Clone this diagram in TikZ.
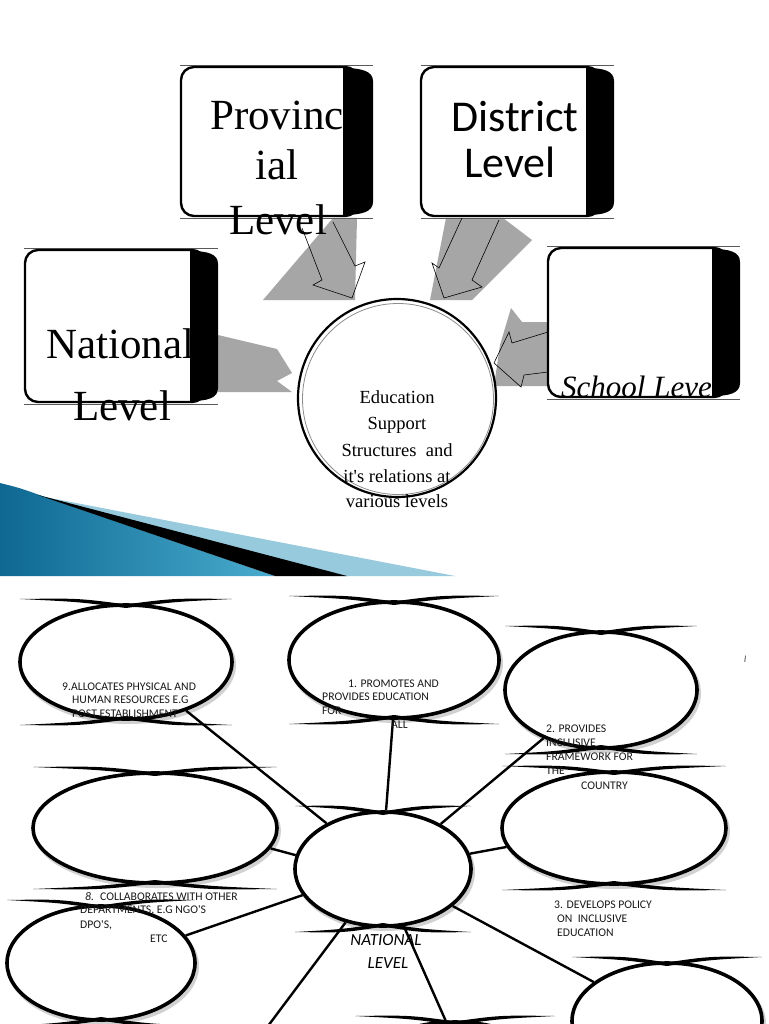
\documentclass[tikz,border=0pt]{standalone}
\usepackage{fontspec}
\setmainfont{Liberation Serif}
\newfontfamily\tms{Liberation Serif}
\newfontfamily\cbr{Carlito}
\usetikzlibrary{shapes.geometric}
\definecolor{arrgray}{RGB}{166,166,166}
\definecolor{swdark}{RGB}{14,104,146}
\definecolor{swmid}{RGB}{74,172,206}
\definecolor{swlight}{RGB}{150,202,220}
\tikzset{
  lvbox/.style={draw, line width=2.4pt, rounded corners=13pt, fill=white, inner sep=0pt},
  thinrule/.style={line width=0.9pt, black!65},
  grayarrow/.style={fill=arrgray},
  outarrow/.style={draw, line width=0.6pt, line join=miter},
  bigserif/.style={font=\tms\fontsize{43}{50}\selectfont, inner sep=0pt, anchor=base},
  bigsans/.style={font=\cbr\fontsize{44}{50}\selectfont, inner sep=0pt, anchor=base},
  midserif/.style={font=\tms\fontsize{18.5}{22}\selectfont, inner sep=0pt, anchor=base},
  smalltxt/.style={font=\cbr\fontsize{11.7}{13}\selectfont, text=black!90, inner sep=0pt, anchor=base west},
  bubst/.style={ellipse, draw, line width=3.6pt, fill=white, inner sep=0pt},
  bubsh/.style={ellipse, draw=black!18, line width=4pt, inner sep=0pt},
  conn/.style={line width=2.4pt},
}
% tapered tail: cx, yedge, sx, sy, a
\newcommand\tl[5]{%
  \fill ({#1+(#3)*(#5)},{#2+(#4)*6}) .. controls ({#1+(#3)*(#5)*0.45},{#2+(#4)*6.8}) .. ({#1},{#2+(#4)*0.6})
     -- ({#1},{#2-(#4)*3.0}) .. controls ({#1+(#3)*(#5)*0.45},{#2+(#4)*3.2}) .. ({#1+(#3)*(#5)},{#2+(#4)*6}) -- cycle;}
% bubble: name, cx, cy, a, b
\newcommand\bub[5]{%
  \node[bubsh, minimum width=2*#4pt, minimum height=2*#5pt] (#1s) at ({#2+2},{#3+3}) {};
  \node[bubst, minimum width=2*#4pt, minimum height=2*#5pt] (#1) at (#2,#3) {};
  \tl{#2}{#3-#5}{-1}{-1}{#4}\tl{#2}{#3-#5}{1}{-1}{#4}%
  \tl{#2}{#3+#5}{-1}{1}{#4}\tl{#2}{#3+#5}{1}{1}{#4}}
% side bar: xb, x2, y1, y2
\newcommand\sidebar[4]{%
  \fill (#1,{#3+1}) .. controls ({#1+18},{#3+1}) and (#2,{#3+4}) .. (#2,{#3+14})
     -- (#2,{#4-14}) .. controls (#2,{#4-4}) and ({#1+18},{#4-1}) .. (#1,{#4-1}) -- cycle;}
\begin{document}
\begin{tikzpicture}[x=1pt,y=-1pt]
\useasboundingbox (0,0) rectangle (768,1024);
\clip (0,0) rectangle (768,1024);
\fill[white] (0,0) rectangle (768,1024);

% ---------------- top slide ----------------
% swoosh
\fill[swlight] (45,497) -- (455,576) -- (330,576) -- cycle;
\shade[left color=swdark, right color=swmid] (0,483) .. controls (20,488) .. (45,497) -- (275,576) -- (0,576) -- cycle;
\fill[black] (38,495) -- (347,576) -- (275,576) -- cycle;

% gray block arrows
\fill[grayarrow] (333,218) -- (357,218) -- (355,300) -- (263,300) -- cycle;
\fill[grayarrow] (446,218) -- (503,218) -- (532,240) -- (472,300) -- (430,300) -- cycle;
\fill[grayarrow] (218,335) -- (277,349) -- (292,373) -- (277,381) -- (292,392) -- (218,392) -- cycle;
\fill[grayarrow] (511,308) -- (522,322) -- (548,322) -- (548,386) -- (494,386) -- (500,345) -- cycle;

% boxes
\draw[thinrule] (180,65) -- (373,65); \draw[thinrule] (180,218) -- (373,218);
\draw[thinrule] (421,65) -- (614,65); \draw[thinrule] (421,218) -- (614,218);
\draw[thinrule] (24,248) -- (218,248); \draw[thinrule] (24,404) -- (218,404);
\draw[thinrule] (547,246) -- (740,246); \draw[thinrule] (547,399) -- (740,399);
\node[lvbox, minimum width=177pt, minimum height=149pt] (prov) at (269.5,141.5) {};
\node[lvbox, minimum width=179pt, minimum height=149pt] (dist) at (510.5,141.5) {};
\node[lvbox, minimum width=180pt, minimum height=152pt] (natb) at (115,326) {};
\node[lvbox, minimum width=179pt, minimum height=149pt] (schl) at (637.5,322.5) {};

\node[bigserif] (provt1) at (277,130) {Provinc};
\node[bigserif] (provt2) at (277,180) {ial};
\node[bigserif] (provt3) at (278,235) {Level};
\node[bigsans] (distt1) at (515,132) {District};
\node[bigsans] (distt2) at (510,178) {Level};
\node[bigserif, anchor=base west] (natt1) at (46,358) {National};
\node[bigserif] (natt2) at (122,420) {Level};
\node[font=\tms\itshape\fontsize{31}{36}\selectfont, inner sep=0pt, anchor=base west] (schlt) at (561,397) {School Level};

\sidebar{343}{373}{67}{216}
\sidebar{586}{614}{67}{216}
\sidebar{190}{218}{250}{402}
\sidebar{712}{740}{248}{397}

% central circle
\node[circle, draw, line width=2.2pt, fill=white, minimum size=198pt, inner sep=0pt] (esc) at (397,398) {};
\node[circle, draw=black!45, line width=0.8pt, minimum size=191pt, inner sep=0pt] (escin) at (398,399) {};

% outline arrows
\draw[outarrow] (302,228) -- (322,280) -- (313,285) -- (352,298) -- (365,262) -- (355,266) -- (333,222);
\draw[outarrow] (462,218) -- (439,268) -- (432,263) -- (444,298) -- (482,287) -- (472,280) -- (499,220);
\draw[outarrow] (548,332) -- (512,343) -- (509,332) -- (494,363) -- (521,387) -- (524,375) -- (548,372);

\node[midserif] (c1) at (397,403) {Education};
\node[midserif] (c2) at (397,429) {Support};
\node[midserif] (c3) at (397,456) {Structures\ \ and};
\node[midserif] (c4) at (397,482) {it's relations at};
\node[midserif] (c5) at (397,507) {various levels};

% ---------------- bottom slide ----------------
\bub{e9}{126}{662}{106}{57}
\bub{e1}{394}{660}{105}{58}
\bub{e2}{601}{690}{96}{58}
\bub{e7}{155}{828}{122}{55}
\bub{e3}{614}{828}{112}{56}
\bub{e8}{101}{963}{94}{57}
\bub{nat}{383}{869}{88}{57}
\bub{e4}{667}{1021}{95}{58}
\bub{e5}{455}{1080}{100}{58}

\coordinate (dl) at (265,1030);

\draw[conn] (e9.-39) -- (nat.141);
\draw[conn] (e1.-91) -- (nat.87);
\draw[conn] (e2.220) -- (nat.38);
\draw[conn] (e7.-10) -- (nat.171);
\draw[conn] (e3.190) -- (nat.10);
\draw[conn] (e8.18) -- (nat.198);
\draw[conn] (nat.-28) -- (e4.152);
\draw[conn] (nat.235) -- (dl);
\draw[conn] (nat.-70) -- (e5.99);

% texts
\node[smalltxt] (t9a) at (62,690) {9.ALLOCATES PHYSICAL AND};
\node[smalltxt] (t9b) at (72,703) {HUMAN RESOURCES E.G};
\node[smalltxt] (t9c) at (72,717) {POST ESTABLISHMENT};

\node[smalltxt] (t1a) at (348,687) {1. PROMOTES AND};
\node[smalltxt] (t1b) at (322,700) {PROVIDES EDUCATION};
\node[smalltxt] (t1c) at (322,714) {FOR};
\node[smalltxt] (t1d) at (391,728) {ALL};

\node[smalltxt] (t2a) at (546,732) {2. PROVIDES};
\node[smalltxt] (t2b) at (546,746) {INCLUSIVE};
\node[smalltxt] (t2c) at (546,760) {FRAMEWORK FOR};
\node[smalltxt] (t2d) at (546,774) {THE};
\node[smalltxt] (t2e) at (581,789) {COUNTRY};

\node[smalltxt] (t8a) at (85,900) {\itshape 8.};
\node[smalltxt] (t8b) at (100,900) {COLLABORATES WITH OTHER};
\node[smalltxt] (t8c) at (80,913) {DEPARTMENTS, E.G NGO'S};
\node[smalltxt] (t8d) at (80,928) {DPO'S,};
\node[smalltxt] (t8e) at (150,942) {ETC};

\node[smalltxt] (t3a) at (554,908) {3. DEVELOPS POLICY};
\node[smalltxt] (t3b) at (557,922) {ON\ \ INCLUSIVE};
\node[smalltxt] (t3c) at (557,936) {EDUCATION};

\node[font=\cbr\itshape\fontsize{17}{20}\selectfont, inner sep=0pt, anchor=base] (nl1) at (386,945) {NATIONAL};
\node[font=\cbr\itshape\fontsize{17}{20}\selectfont, inner sep=0pt, anchor=base] (nl2) at (388,968) {LEVEL};

\node[font=\cbr\itshape\fontsize{10}{12}\selectfont, text=black!70, inner sep=0pt, anchor=base] (mark) at (745,662) {I};
\end{tikzpicture}
\end{document}
